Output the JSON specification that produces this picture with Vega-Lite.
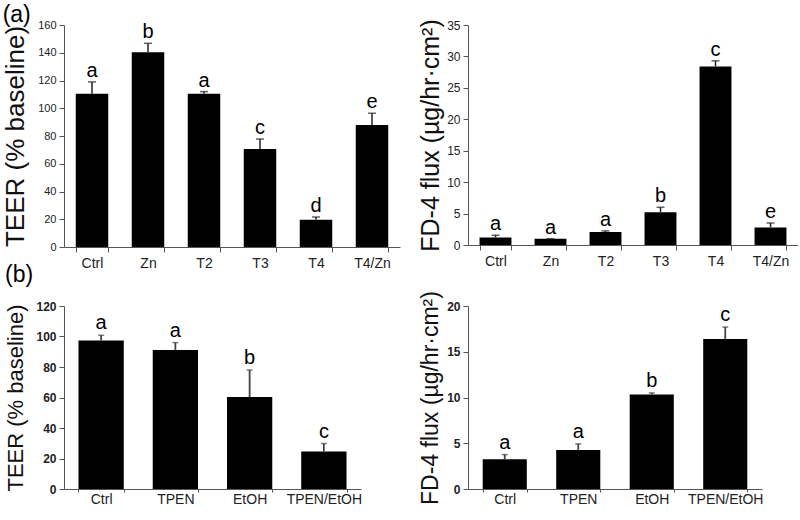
{
  "$schema": "https://vega.github.io/schema/vega-lite/v6.json",
  "padding": {"left": 2, "top": 4, "right": 0, "bottom": 0},
  "background": "white",
  "bounds": "flush",
  "columns": 2,
  "spacing": {"row": 59, "column": 68},
  "datasets": {
    "tl": [
      {"g": "Ctrl", "v": 110.5, "hi": 119, "lab": "a"},
      {"g": "Zn", "v": 140.3, "hi": 146.8, "lab": "b"},
      {"g": "T2", "v": 110.5, "hi": 112, "lab": "a"},
      {"g": "T3", "v": 70.6, "hi": 77.8, "lab": "c"},
      {"g": "T4", "v": 19.7, "hi": 21.6, "lab": "d"},
      {"g": "T4/Zn", "v": 88, "hi": 96.4, "lab": "e"}
    ],
    "tr": [
      {"g": "Ctrl", "v": 1.2, "hi": 1.55, "lab": "a"},
      {"g": "Zn", "v": 1.0, "hi": 1.0, "lab": "a"},
      {"g": "T2", "v": 2.08, "hi": 2.24, "lab": "a"},
      {"g": "T3", "v": 5.2, "hi": 6.0, "lab": "b"},
      {"g": "T4", "v": 28.4, "hi": 29.3, "lab": "c"},
      {"g": "T4/Zn", "v": 2.8, "hi": 3.5, "lab": "e"}
    ],
    "bl": [
      {"g": "Ctrl", "v": 97.3, "hi": 100.8, "lab": "a"},
      {"g": "TPEN", "v": 91.2, "hi": 96, "lab": "a"},
      {"g": "EtOH", "v": 60.3, "hi": 78, "lab": "b"},
      {"g": "TPEN/EtOH", "v": 24.6, "hi": 29.8, "lab": "c"}
    ],
    "br": [
      {"g": "Ctrl", "v": 3.25, "hi": 3.76, "lab": "a"},
      {"g": "TPEN", "v": 4.27, "hi": 4.93, "lab": "a"},
      {"g": "EtOH", "v": 10.33, "hi": 10.5, "lab": "b"},
      {"g": "TPEN/EtOH", "v": 16.4, "hi": 17.7, "lab": "c"}
    ]
  },
  "concat": [
    {
      "width": 336,
      "height": 222,
      "title": {"text": "(a)", "anchor": "start", "frame": "bounds", "fontSize": 23, "fontWeight": "normal", "offset": -8, "color": "#000"},
      "data": {"name": "tl"},
      "encoding": {
        "x": {"field": "g", "type": "nominal", "sort": null, "scale": {"paddingInner": 0.42, "paddingOuter": 0.21},
          "axis": {"title": null, "labelAngle": 0, "tickBand": "extent", "tickSize": 5, "labelPadding": 4, "labelFontSize": 14}}
      },
      "layer": [
        {"mark": {"type": "bar", "color": "#000"},
         "encoding": {"y": {"field": "v", "type": "quantitative", "scale": {"domain": [0, 160], "nice": false},
           "axis": {"title": "TEER (% baseline)", "values": [0, 20, 40, 60, 80, 100, 120, 140, 160], "labelOverlap": false, "titleFontSize": 26, "titlePadding": 9, "labelFontSize": 11, "tickSize": 5, "labelPadding": 3}}}},
        {"mark": {"type": "rule", "color": "#222", "strokeWidth": 1.5},
         "encoding": {"y": {"field": "v", "type": "quantitative",
           "axis": {"title": "TEER (% baseline)", "values": [0, 20, 40, 60, 80, 100, 120, 140, 160], "labelOverlap": false, "titleFontSize": 26, "titlePadding": 9, "labelFontSize": 11, "tickSize": 5, "labelPadding": 3}}, "y2": {"field": "hi"}}},
        {"mark": {"type": "tick", "color": "#222", "thickness": 1.5, "size": 8},
         "encoding": {"y": {"field": "hi", "type": "quantitative",
           "axis": {"title": "TEER (% baseline)", "values": [0, 20, 40, 60, 80, 100, 120, 140, 160], "labelOverlap": false, "titleFontSize": 26, "titlePadding": 9, "labelFontSize": 11, "tickSize": 5, "labelPadding": 3}}}},
        {"mark": {"type": "text", "baseline": "alphabetic", "dy": -5, "fontSize": 20, "color": "#000"},
         "encoding": {"y": {"field": "hi", "type": "quantitative",
           "axis": {"title": "TEER (% baseline)", "values": [0, 20, 40, 60, 80, 100, 120, 140, 160], "labelOverlap": false, "titleFontSize": 26, "titlePadding": 9, "labelFontSize": 11, "tickSize": 5, "labelPadding": 3}}, "text": {"field": "lab"}}}
      ]
    },
    {
      "width": 330,
      "height": 220,
      "data": {"name": "tr"},
      "encoding": {
        "x": {"field": "g", "type": "nominal", "sort": null, "scale": {"paddingInner": 0.42, "paddingOuter": 0.21},
          "axis": {"title": null, "labelAngle": 0, "tickBand": "extent", "tickSize": 5, "labelPadding": 4, "labelFontSize": 14}}
      },
      "layer": [
        {"mark": {"type": "bar", "color": "#000"},
         "encoding": {"y": {"field": "v", "type": "quantitative", "scale": {"domain": [0, 35], "nice": false},
           "axis": {"title": "FD-4 flux (µg/hr·cm²)", "values": [0, 5, 10, 15, 20, 25, 30, 35], "labelOverlap": false, "titleFontSize": 25, "titlePadding": 3, "labelFontSize": 12, "tickSize": 5, "labelPadding": 3}}}},
        {"mark": {"type": "rule", "color": "#222", "strokeWidth": 1.5},
         "encoding": {"y": {"field": "v", "type": "quantitative",
           "axis": {"title": "FD-4 flux (µg/hr·cm²)", "values": [0, 5, 10, 15, 20, 25, 30, 35], "labelOverlap": false, "titleFontSize": 25, "titlePadding": 3, "labelFontSize": 12, "tickSize": 5, "labelPadding": 3}}, "y2": {"field": "hi"}}},
        {"mark": {"type": "tick", "color": "#222", "thickness": 1.5, "size": 8},
         "encoding": {"y": {"field": "hi", "type": "quantitative",
           "axis": {"title": "FD-4 flux (µg/hr·cm²)", "values": [0, 5, 10, 15, 20, 25, 30, 35], "labelOverlap": false, "titleFontSize": 25, "titlePadding": 3, "labelFontSize": 12, "tickSize": 5, "labelPadding": 3}}}},
        {"mark": {"type": "text", "baseline": "alphabetic", "dy": -5, "fontSize": 20, "color": "#000"},
         "encoding": {"y": {"field": "hi", "type": "quantitative",
           "axis": {"title": "FD-4 flux (µg/hr·cm²)", "values": [0, 5, 10, 15, 20, 25, 30, 35], "labelOverlap": false, "titleFontSize": 25, "titlePadding": 3, "labelFontSize": 12, "tickSize": 5, "labelPadding": 3}}, "text": {"field": "lab"}}}
      ]
    },
    {
      "width": 297,
      "height": 183,
      "title": {"text": "(b)", "anchor": "start", "frame": "bounds", "fontSize": 23, "fontWeight": "normal", "offset": 13, "color": "#000"},
      "data": {"name": "bl"},
      "encoding": {
        "x": {"field": "g", "type": "nominal", "sort": null, "scale": {"paddingInner": 0.39, "paddingOuter": 0.195},
          "axis": {"title": null, "labelAngle": 0, "tickBand": "extent", "tickSize": 3, "labelPadding": 0, "labelFontSize": 14}}
      },
      "layer": [
        {"mark": {"type": "bar", "color": "#000"},
         "encoding": {"y": {"field": "v", "type": "quantitative", "scale": {"domain": [0, 120], "nice": false},
           "axis": {"title": "TEER (% baseline)", "values": [0, 20, 40, 60, 80, 100, 120], "labelOverlap": false, "titleFontSize": 22, "titlePadding": 8, "labelFontSize": 12, "labelFontWeight": "bold", "tickSize": 5, "labelPadding": 3}}}},
        {"mark": {"type": "rule", "color": "#444", "strokeWidth": 1.8},
         "encoding": {"y": {"field": "v", "type": "quantitative",
           "axis": {"title": "TEER (% baseline)", "values": [0, 20, 40, 60, 80, 100, 120], "labelOverlap": false, "titleFontSize": 22, "titlePadding": 8, "labelFontSize": 12, "labelFontWeight": "bold", "tickSize": 5, "labelPadding": 3}}, "y2": {"field": "hi"}}},
        {"mark": {"type": "tick", "color": "#444", "thickness": 1.5, "size": 6},
         "encoding": {"y": {"field": "hi", "type": "quantitative",
           "axis": {"title": "TEER (% baseline)", "values": [0, 20, 40, 60, 80, 100, 120], "labelOverlap": false, "titleFontSize": 22, "titlePadding": 8, "labelFontSize": 12, "labelFontWeight": "bold", "tickSize": 5, "labelPadding": 3}}}},
        {"mark": {"type": "text", "baseline": "alphabetic", "dy": -6, "fontSize": 20, "color": "#000"},
         "encoding": {"y": {"field": "hi", "type": "quantitative",
           "axis": {"title": "TEER (% baseline)", "values": [0, 20, 40, 60, 80, 100, 120], "labelOverlap": false, "titleFontSize": 22, "titlePadding": 8, "labelFontSize": 12, "labelFontWeight": "bold", "tickSize": 5, "labelPadding": 3}}, "text": {"field": "lab"}}}
      ]
    },
    {
      "width": 294,
      "height": 183,
      "data": {"name": "br"},
      "encoding": {
        "x": {"field": "g", "type": "nominal", "sort": null, "scale": {"paddingInner": 0.4, "paddingOuter": 0.2},
          "axis": {"title": null, "labelAngle": 0, "tickBand": "extent", "tickSize": 3, "labelPadding": 0, "labelFontSize": 14}}
      },
      "layer": [
        {"mark": {"type": "bar", "color": "#000"},
         "encoding": {"y": {"field": "v", "type": "quantitative", "scale": {"domain": [0, 20], "nice": false},
           "axis": {"title": "FD-4 flux (µg/hr·cm²)", "values": [0, 5, 10, 15, 20], "labelOverlap": false, "titleFontSize": 23, "titlePadding": 4, "labelFontSize": 12, "labelFontWeight": "bold", "tickSize": 5, "labelPadding": 3}}}},
        {"mark": {"type": "rule", "color": "#444", "strokeWidth": 1.8},
         "encoding": {"y": {"field": "v", "type": "quantitative",
           "axis": {"title": "FD-4 flux (µg/hr·cm²)", "values": [0, 5, 10, 15, 20], "labelOverlap": false, "titleFontSize": 23, "titlePadding": 4, "labelFontSize": 12, "labelFontWeight": "bold", "tickSize": 5, "labelPadding": 3}}, "y2": {"field": "hi"}}},
        {"mark": {"type": "tick", "color": "#444", "thickness": 1.5, "size": 6},
         "encoding": {"y": {"field": "hi", "type": "quantitative",
           "axis": {"title": "FD-4 flux (µg/hr·cm²)", "values": [0, 5, 10, 15, 20], "labelOverlap": false, "titleFontSize": 23, "titlePadding": 4, "labelFontSize": 12, "labelFontWeight": "bold", "tickSize": 5, "labelPadding": 3}}}},
        {"mark": {"type": "text", "baseline": "alphabetic", "dy": -6, "fontSize": 20, "color": "#000"},
         "encoding": {"y": {"field": "hi", "type": "quantitative",
           "axis": {"title": "FD-4 flux (µg/hr·cm²)", "values": [0, 5, 10, 15, 20], "labelOverlap": false, "titleFontSize": 23, "titlePadding": 4, "labelFontSize": 12, "labelFontWeight": "bold", "tickSize": 5, "labelPadding": 3}}, "text": {"field": "lab"}}}
      ]
    }
  ],
  "config": {
    "view": {"stroke": null},
    "font": "Liberation Sans",
    "axis": {"grid": false, "domainColor": "#555", "tickColor": "#555", "labelColor": "#222", "titleColor": "#111", "titleFontWeight": "normal", "labelFont": "Liberation Sans", "titleFont": "Liberation Sans"},
    "title": {"font": "Liberation Sans"}
  }
}
